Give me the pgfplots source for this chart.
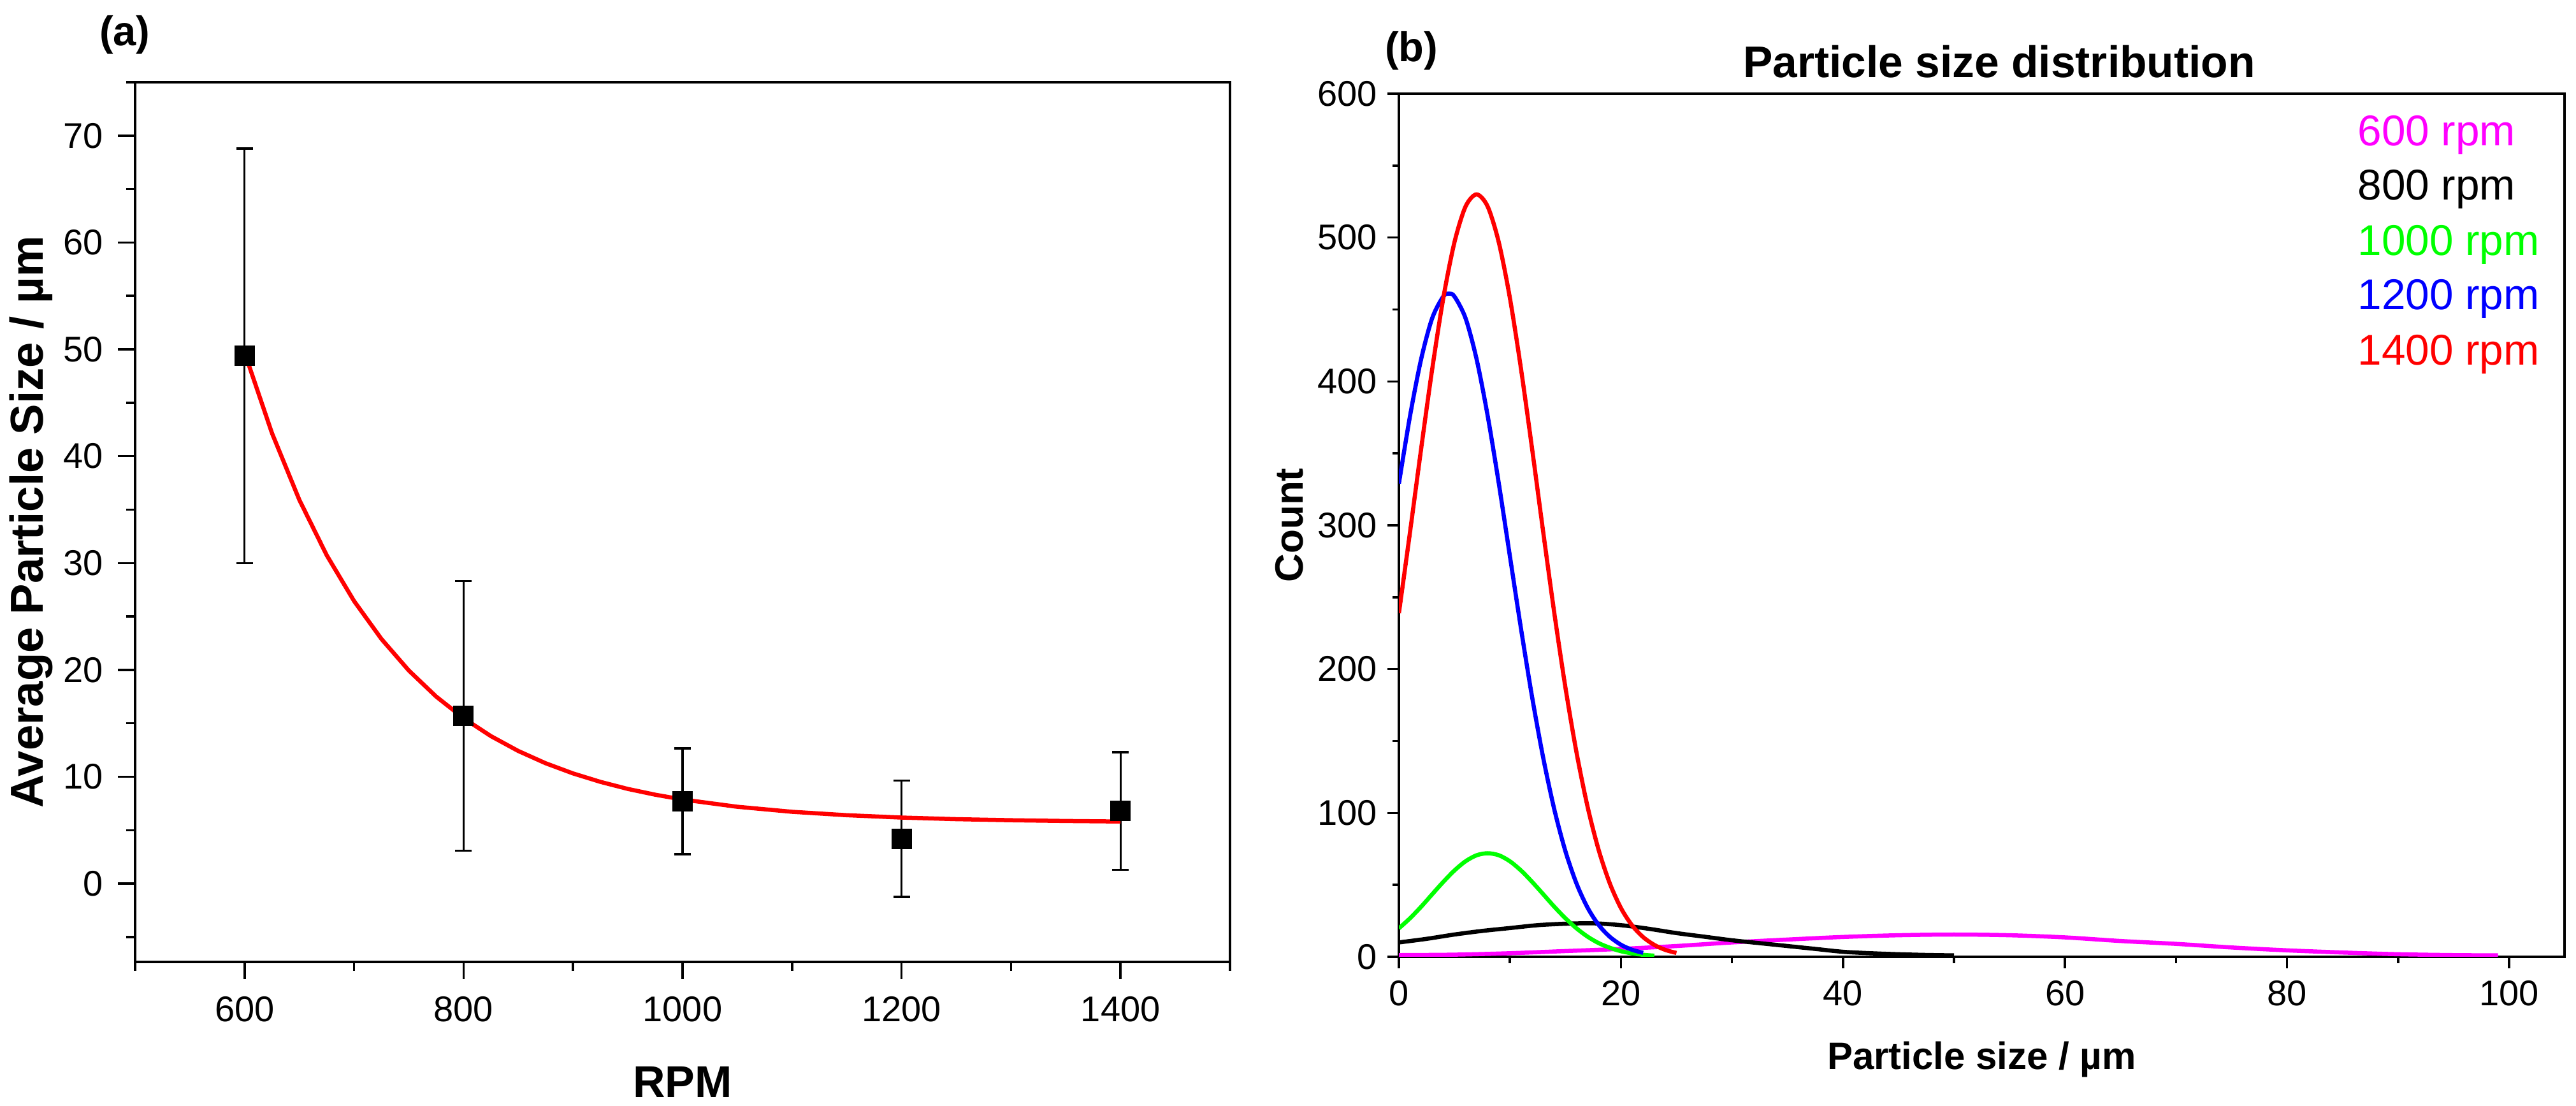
\documentclass[border=0pt]{standalone}
\usepackage{fontspec}
\setmainfont{Liberation Sans}
\usepackage{pgfplots}
\pgfplotsset{compat=1.18}

\definecolor{rpmsix}{RGB}{255,0,255}
\definecolor{rpmeight}{RGB}{0,0,0}
\definecolor{rpmten}{RGB}{0,255,0}
\definecolor{rpmtwelve}{RGB}{0,0,255}
\definecolor{rpmfourteen}{RGB}{255,0,0}

% shared look of both panels
\pgfplotsset{
  panel/.style={
    scale only axis,
    axis line style={line width=0.7pt},
    every tick/.style={line width=0.7pt, black},
    tick align=outside,
    xtick pos=left, ytick pos=left,
    /pgf/number format/assume math mode=true,
    /pgf/number format/1000 sep={},
    ticklabel style={font=\fontsize{11.2}{13}\selectfont},
    xticklabel style={anchor=north, inner sep=0pt},
    yticklabel style={anchor=east, inner sep=0pt},
  }
}

\begin{document}
\begin{tikzpicture}
\useasboundingbox (0,0) rectangle (808.4pt,347pt);

% ---------------- (a) average particle size versus stirring speed
\begin{axis}[panel,
  at={(42.4pt,45.2pt)}, anchor=south west,
  width=343.6pt, height=276pt,
  xmin=500, xmax=1500, ymin=-7.33, ymax=75,
  xtick={600,800,1000,1200,1400},
  minor xtick={500,700,900,1100,1300,1500},
  ytick={0,10,20,30,40,50,60,70},
  minor ytick={-5,5,15,25,35,45,55,65,75},
  major tick length=5.4pt, minor tick length=2.8pt,
  xticklabel shift=5.2pt, yticklabel shift=4.4pt,
  xlabel={RPM},
  ylabel={Average Particle Size / µm},
  xlabel style={at={(axis description cs:0.5,-0.1543)}, anchor=base,
    font=\bfseries\fontsize{14}{16}\selectfont},
  ylabel style={at={(axis description cs:-0.0952,0.5)}, anchor=center,
    font=\bfseries\fontsize{14.5}{16}\selectfont},
]
\addplot[only marks, mark=square*, mark size=3pt, black,
  error bars/.cd, y dir=both, y explicit,
  error bar style={line width=0.65pt, black},
  error mark options={rotate=90, mark size=2.6pt, line width=0.65pt, black}]
  coordinates {
    (600,49.4) +- (0,19.4)
    (800,15.7) +- (0,12.6)
    (1000,7.7) +- (0,4.95)
    (1200,4.2) +- (0,5.45)
    (1400,6.8) +- (0,5.5)
  };
% exponential decay fit
\addplot[rpmfourteen, line width=1.3pt] coordinates {
  (600,49.70) (625,42.16) (650,35.91) (675,30.73) (700,26.44)
  (725,22.89) (750,19.94) (775,17.50) (800,15.48) (825,13.80)
  (850,12.41) (875,11.26) (900,10.31) (925,9.52) (950,8.86)
  (975,8.32) (1000,7.87) (1050,7.19) (1100,6.72) (1150,6.40)
  (1200,6.18) (1250,6.03) (1300,5.93) (1350,5.86) (1400,5.81)
};
\end{axis}

% ---------------- (b) particle size distributions
\begin{axis}[panel,
  at={(439pt,46.8pt)}, anchor=south west,
  width=365.8pt, height=270.8pt,
  xmin=0, xmax=105, ymin=0, ymax=600,
  xtick={0,20,40,60,80,100},
  minor xtick={10,30,50,70,90},
  ytick={0,100,200,300,400,500,600},
  minor ytick={50,150,250,350,450,550},
  major tick length=3.6pt, minor tick length=2pt,
  xticklabel shift=3.6pt, yticklabel shift=3pt,
  xlabel={Particle size / µm},
  ylabel={Count},
  xlabel style={at={(axis description cs:0.5,-0.1307)}, anchor=base,
    font=\bfseries\fontsize{12}{14}\selectfont},
  ylabel style={at={(axis description cs:-0.094,0.5)}, anchor=center,
    font=\bfseries\fontsize{12.4}{14}\selectfont},
  every axis plot/.append style={line width=1.3pt, smooth, tension=0.5},
]
% 600 rpm
\addplot[rpmsix] coordinates {
  (0,1.2) (5,1.5) (10,2.5) (15,4) (20,5.5) (25,7.5) (30,10) (35,12)
  (40,13.8) (45,15) (50,15.5) (55,15) (60,13.5) (65,11) (70,9)
  (75,6.5) (80,4.5) (85,3) (90,1.8) (95,1.2) (99,1)
};
% 800 rpm
\addplot[rpmeight] coordinates {
  (0,10) (2.5,12.5) (5,15.5) (7.5,18) (10,20) (12.5,22) (15,23)
  (17.5,23.3) (20,22) (22.5,19.5) (25,16.5) (27.5,14) (30,11.5)
  (32.5,9.5) (35,7.5) (37.5,5.5) (40,3.5) (42.5,2.5) (45,1.8)
  (47.5,1.3) (50,1)
};
% 1000 rpm
\addplot[rpmten] coordinates {
  (0,19.8) (1,26.8) (2,34.8) (3,43.5) (4,52.1) (5,60.0) (6,66.4)
  (7,70.6) (8,72) (9,70.6) (10,66.4) (11,60.0) (12,52.1) (13,43.5)
  (14,34.8) (15,26.8) (16,19.8) (17,14.0) (18,9.5) (19,6.3)
  (20,3.9) (21,2.4) (22,1.4) (23,0.8)
};
% 1200 rpm
\addplot[rpmtwelve] coordinates {
  (0,329) (1,375.9) (2,415.4) (3,444.0) (4,459.1) (4.5,461) (5,459.1)
  (6,444.0) (7,415.4) (8,375.9) (9,329) (10,278.4) (11,228.0)
  (12,180.5) (13,138.3) (14,102.4) (15,73.4) (16,50.9) (17,34.1)
  (18,22.1) (19,13.9) (20,8.4) (21,4.9) (22,2.8)
};
% 1400 rpm
\addplot[rpmfourteen] coordinates {
  (0,238.9) (1,295.2) (2,353.0) (3,408.6) (4,457.9) (5,496.6)
  (6,521.5) (7,530) (8,521.5) (9,496.6) (10,457.9) (11,408.6)
  (12,353.0) (13,295.2) (14,238.9) (15,187.2) (16,142.0) (17,104.2)
  (18,74.1) (19,51.0) (20,33.9) (21,21.9) (22,13.7) (23,8.3)
  (24,4.8) (25,2.7)
};
\begin{scope}[every node/.style={anchor=base west, inner sep=0pt,
    font=\fontsize{13.5}{15}\selectfont}]
\node[text=rpmsix]      at (rel axis cs:0.822,0.940) {600 rpm};
\node[text=rpmeight]    at (rel axis cs:0.822,0.877) {800 rpm};
\node[text=rpmten]      at (rel axis cs:0.822,0.813) {1000 rpm};
\node[text=rpmtwelve]   at (rel axis cs:0.822,0.750) {1200 rpm};
\node[text=rpmfourteen] at (rel axis cs:0.822,0.686) {1400 rpm};
\end{scope}
\end{axis}

% panel letters and title
\node[anchor=base west, inner sep=0pt, font=\bfseries\fontsize{13}{15}\selectfont]
  at (31pt,332.6pt) {(a)};
\node[anchor=base west, inner sep=0pt, font=\bfseries\fontsize{13}{15}\selectfont]
  at (434.4pt,327.6pt) {(b)};
\node[anchor=base, inner sep=0pt, font=\bfseries\fontsize{13.9}{16}\selectfont]
  at (627.4pt,322.6pt) {Particle size distribution};
\end{tikzpicture}
\end{document}
